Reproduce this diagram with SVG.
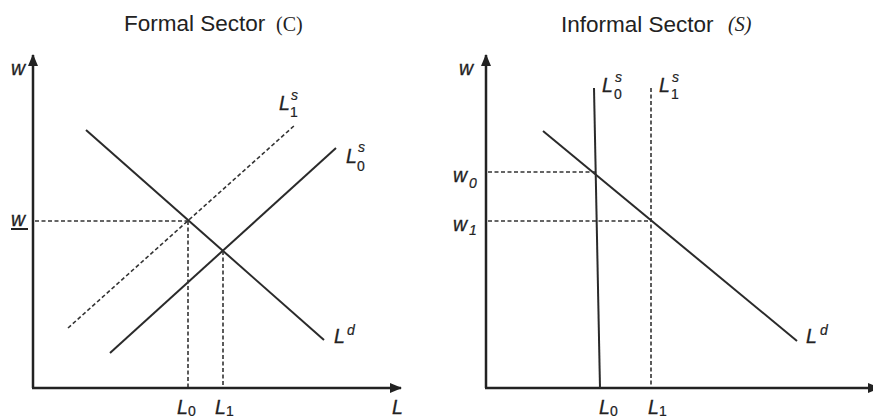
<svg xmlns="http://www.w3.org/2000/svg" width="873" height="420" viewBox="0 0 873 420">
<defs>
<marker id="arr" viewBox="0 0 12 10" refX="11" refY="5" markerWidth="12" markerHeight="10" markerUnits="userSpaceOnUse" orient="auto">
<path d="M0,0 L12,5 L0,10 Z" fill="#222"/>
</marker>
</defs>
<style>
.ax{stroke:#222;stroke-width:2.5;fill:none}
.sol{stroke:#2a2a2a;stroke-width:2;fill:none}
.dsh{stroke:#333;stroke-width:1.6;fill:none;stroke-dasharray:4 2.5}
.lab{font-family:"Liberation Sans",Arial,sans-serif;font-style:italic;font-size:19.5px;fill:#222;stroke:#222;stroke-width:0.3}
.sm{font-family:"Liberation Sans",Arial,sans-serif;font-style:italic;font-size:14px;fill:#222;stroke:#222;stroke-width:0.2}
.smu{font-family:"Liberation Sans",Arial,sans-serif;font-size:14px;fill:#222;stroke:#222;stroke-width:0.2}
.ttl{font-family:"Liberation Sans",Arial,sans-serif;font-size:22.5px;fill:#222}
.ser{font-family:"Liberation Serif","Times New Roman",serif;font-size:20px;fill:#222}
</style>
<rect width="873" height="420" fill="#fff"/>

<g id="titles">
<text class="ttl" x="124" y="31">Formal Sector</text>
<text class="ser" x="276" y="31">(C)</text>
<text class="ttl" x="561" y="32">Informal Sector</text>
<text class="ser" x="728" y="31" font-style="italic">(S)</text>
</g>

<g id="connectors">
<line class="ax" x1="33" y1="388" x2="33" y2="55" marker-end="url(#arr)"/>
<line class="ax" x1="32" y1="388" x2="401" y2="388" marker-end="url(#arr)"/>
<line class="sol" x1="86" y1="130" x2="324" y2="340"/>
<line class="sol" x1="110" y1="353" x2="336" y2="148"/>
<line class="dsh" x1="68" y1="328" x2="295" y2="125"/>
<line class="dsh" x1="35" y1="221" x2="188" y2="221"/>
<line class="dsh" x1="188" y1="221" x2="188" y2="387"/>
<line class="dsh" x1="223" y1="251" x2="223" y2="387"/>
<line class="ax" x1="486" y1="388" x2="486" y2="55" marker-end="url(#arr)"/>
<line class="ax" x1="485" y1="388" x2="879" y2="388" marker-end="url(#arr)"/>
<line class="sol" x1="594" y1="88" x2="600" y2="388"/>
<line class="dsh" x1="651" y1="88" x2="651" y2="387"/>
<line class="sol" x1="543" y1="131" x2="797" y2="341"/>
<line class="dsh" x1="488" y1="172" x2="595" y2="172"/>
<line class="dsh" x1="488" y1="221" x2="651" y2="221"/>
</g>

<g id="left-labels">
<text class="lab" x="11" y="75">w</text>
<text class="lab" x="11" y="226">w</text>
<line x1="11" y1="229" x2="28" y2="229" stroke="#222" stroke-width="2"/>
<text class="lab" x="279" y="110">L</text>
<text class="sm" x="291" y="100">s</text>
<text class="smu" x="290" y="117">1</text>
<text class="lab" x="346" y="163">L</text>
<text class="sm" x="358" y="152">s</text>
<text class="smu" x="357" y="171">0</text>
<text class="lab" x="334" y="343">L</text>
<text class="sm" x="347" y="335">d</text>
<text class="lab" x="177" y="414">L</text>
<text class="smu" x="188" y="416">0</text>
<text class="lab" x="215" y="414">L</text>
<text class="smu" x="226" y="416">1</text>
<text class="lab" x="392" y="414">L</text>
</g>

<g id="right-labels">
<text class="lab" x="459" y="75">w</text>
<text class="lab" x="453" y="182">w</text>
<text class="sm" x="469" y="188">0</text>
<text class="lab" x="453" y="231">w</text>
<text class="sm" x="469" y="235">1</text>
<text class="lab" x="602" y="92">L</text>
<text class="sm" x="615" y="82">s</text>
<text class="smu" x="614" y="99">0</text>
<text class="lab" x="659" y="92">L</text>
<text class="sm" x="672" y="82">s</text>
<text class="smu" x="671" y="99">1</text>
<text class="lab" x="806" y="343">L</text>
<text class="sm" x="820" y="335">d</text>
<text class="lab" x="599" y="414">L</text>
<text class="smu" x="610" y="416">0</text>
<text class="lab" x="648" y="414">L</text>
<text class="smu" x="659" y="416">1</text>
</g>
</svg>
